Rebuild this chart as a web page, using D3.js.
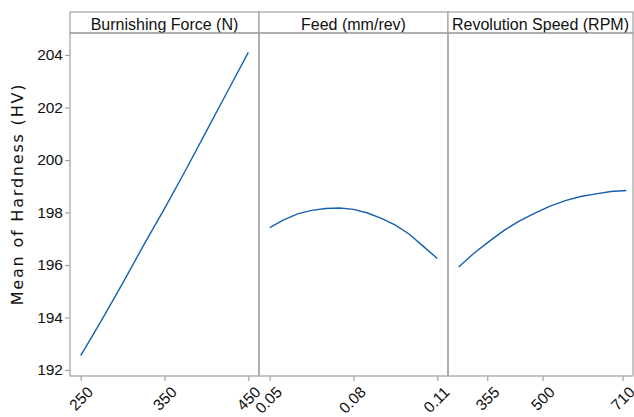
<!DOCTYPE html>
<html>
<head>
<meta charset="utf-8">
<script src="https://cdn.jsdelivr.net/npm/d3@7"></script>
<style>
  body { margin: 0; background: #fff; }
  svg text { font-family: "Liberation Sans", Arial, sans-serif; fill: #111; }
</style>
</head>
<body>
<div id="chart"></div>
<script>
// panel titles
const factors = ["Burnishing Force (N)", "Feed (mm/rev)", "Revolution Speed (RPM)"];

// fitted mean curves
const forceX = [250, 275, 300, 325, 350, 375, 400, 425, 450];
const forceY = [192.55, 193.9, 195.3, 196.75, 198.15, 199.6, 201.1, 202.6, 204.1];

const feedX = [0.05, 0.055, 0.06, 0.065, 0.07, 0.075, 0.08, 0.085, 0.09, 0.095, 0.1, 0.105, 0.11];
const feedY = [197.42, 197.72, 197.95, 198.08, 198.15, 198.17, 198.12, 197.98, 197.78, 197.52, 197.17, 196.71, 196.25];

const speedX = [280, 320, 360, 400, 440, 480, 520, 560, 600, 640, 680, 720];
const speedY = [195.92, 196.45, 196.9, 197.33, 197.68, 197.98, 198.24, 198.45, 198.61, 198.71, 198.8, 198.84];

// tick labels
const forceTicks = [250, 350, 450];
const feedTicks = [0.05, 0.08, 0.11];
const speedTicks = [355, 500, 710];
const yTicks = [192, 194, 196, 198, 200, 202, 204];

const width = 634, height = 417;
const plotLeft = 70, plotTop = 12, stripH = 21, plotBottom = 376, panelW = 189, rightEdge = 633;
const pad = 10.7;

const svg = d3.select("#chart").append("svg")
    .attr("width", width)
    .attr("height", height);

const y = d3.scaleLinear().domain([192, 204]).range([370, 55]);

const panels = [
    { title: factors[0], xs: forceX, ys: forceY, domain: [250, 450], ticks: forceTicks, fmt: d3.format("d") },
    { title: factors[1], xs: feedX, ys: feedY, domain: [0.05, 0.11], ticks: feedTicks, fmt: d3.format(".2f") },
    { title: factors[2], xs: speedX, ys: speedY, domain: [280, 720], ticks: speedTicks, fmt: d3.format("d") }
];

const frameColor = "#a0a0a0";
const line = d3.line();

panels.forEach((p, i) => {
    const x0 = plotLeft + i * panelW;
    const x1 = Math.min(x0 + panelW, rightEdge);
    const x = d3.scaleLinear().domain(p.domain).range([x0 + pad, x0 + panelW - pad]);

    // strip header
    svg.append("rect")
        .attr("x", x0).attr("y", plotTop)
        .attr("width", x1 - x0).attr("height", stripH)
        .attr("fill", "#fff")
        .attr("stroke", frameColor).attr("stroke-width", 1.2);
    svg.append("text")
        .attr("x", x0 + panelW / 2 - (i == 2 ? 2 : 0))
        .attr("y", plotTop + 17.5)
        .attr("text-anchor", "middle")
        .style("font-size", "16px")
        .text(p.title);

    // panel body frame
    svg.append("rect")
        .attr("x", x0).attr("y", plotTop + stripH)
        .attr("width", x1 - x0).attr("height", plotBottom - plotTop - stripH)
        .attr("fill", "none")
        .attr("stroke", frameColor).attr("stroke-width", 1.2);

    // x axis
    const ax = svg.append("g")
        .attr("transform", `translate(0,${plotBottom})`)
        .call(d3.axisBottom(x).tickValues(p.ticks).tickFormat(p.fmt).tickSize(5).tickSizeOuter(0));
    ax.select(".domain").remove();
    ax.selectAll("line").attr("stroke", frameColor).attr("stroke-width", 1.2);
    ax.selectAll("text")
        .style("font-size", "15.5px")
        .attr("text-anchor", "end")
        .attr("transform", "rotate(-45)")
        .attr("dx", "-0.2em")
        .attr("dy", "0.85em");

    // curve
    svg.append("path")
        .datum(p.xs.map((v, k) => [x(v), y(p.ys[k])]))
        .attr("fill", "none")
        .attr("stroke", "#1560b0")
        .attr("stroke-width", 1.4)
        .attr("d", line);
});

// y axis
const ay = svg.append("g")
    .attr("transform", `translate(${plotLeft},0)`)
    .call(d3.axisLeft(y).tickValues(yTicks).tickSize(5).tickSizeOuter(0));
ay.select(".domain").remove();
ay.selectAll("line").attr("stroke", frameColor).attr("stroke-width", 1.2);
ay.selectAll("text").style("font-size", "15.5px").attr("x", -7);

svg.append("text")
    .attr("transform", `translate(23,194) rotate(-90)`)
    .attr("text-anchor", "middle")
    .style("font-family", "'DejaVu Sans', sans-serif")
    .style("font-size", "16px")
    .style("letter-spacing", "1.8px")
    .text("Mean of Hardness (HV)");
</script>
</body>
</html>
